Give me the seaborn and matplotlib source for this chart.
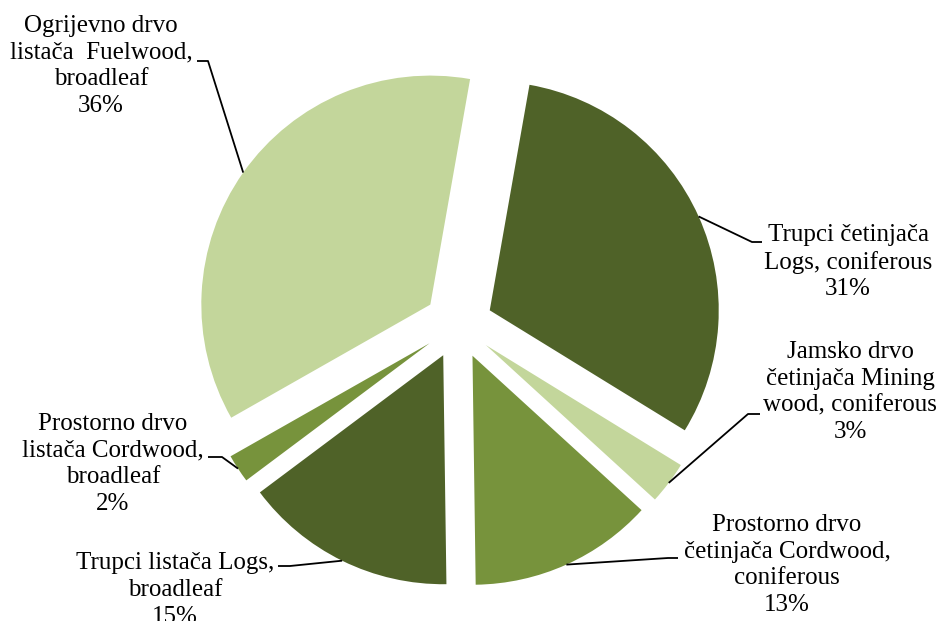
import matplotlib
matplotlib.use("Agg")
import matplotlib.pyplot as plt
import seaborn as sns
import numpy as np

# ==============================================================================
# DADOS
# ==============================================================================
kategorije = [
    "Trupci četinjača\nLogs, coniferous",
    "Jamsko drvo\nčetinjača Mining\nwood, coniferous",
    "Prostorno drvo\nčetinjača Cordwood,\nconiferous",
    "Trupci listača Logs,\nbroadleaf",
    "Prostorno drvo\nlistača Cordwood,\nbroadleaf",
    "Ogrijevno drvo\nlistača  Fuelwood,\nbroadleaf",
]
udjeli = [31, 3, 13, 15, 2, 36]
boje = ["#4F6228", "#C3D69B", "#77933C", "#4F6228", "#77933C", "#C3D69B"]

# ==============================================================================
# LAYOUT (pixels in the 944x621 canvas)
# ==============================================================================
W, H = 944, 621
CX, CY, R = 458.4, 324.4, 229.0
# text centre, leader elbow, leader end
pozicije = [
    ((848, 262), (752, 242), (762, 242)),
    ((850, 392), (748, 414), (760, 414)),
    ((787, 565), (668, 558), (678, 558)),
    ((175, 590), (290, 566), (278, 566)),
    ((113, 464), (222, 457), (208, 457)),
    ((101, 66), (208, 61), (197, 61)),
]


def px(x, y):
    return (x - CX) / R, (CY - y) / R


sns.set_style("white")
plt.rcParams["font.family"] = ["Liberation Serif", "DejaVu Serif"]

fig = plt.figure(figsize=(W / 100, H / 100), dpi=100)
ax = fig.add_axes([0, 0, 1, 1])

wedges, _ = ax.pie(udjeli, colors=boje, startangle=80, counterclock=False,
                   explode=[0.15] * len(udjeli), radius=1.0,
                   wedgeprops={"linewidth": 0})
# pie() resets the limits, so set them afterwards
ax.set_aspect("auto")
ax.set_xlim(-CX / R, (W - CX) / R)
ax.set_ylim((CY - H) / R, CY / R)
ax.axis("off")

for w, naziv, v, (tc, elb, end) in zip(wedges, kategorije, udjeli, pozicije):
    mid = np.deg2rad((w.theta1 + w.theta2) / 2)
    ax_, ay_ = w.center[0] + w.r * np.cos(mid), w.center[1] + w.r * np.sin(mid)
    ex, ey = px(*elb)
    nx, ny = px(*end)
    ax.plot([ax_, ex, nx], [ay_, ey, ny], color="black", lw=1.3,
            solid_capstyle="butt")
    tx, ty = px(*tc)
    ax.text(tx, ty, f"{naziv}\n{v}%", ha="center", va="center",
            multialignment="center", fontsize=18, linespacing=1.28,
            color="black")

fig.savefig("out.png", dpi=100)
